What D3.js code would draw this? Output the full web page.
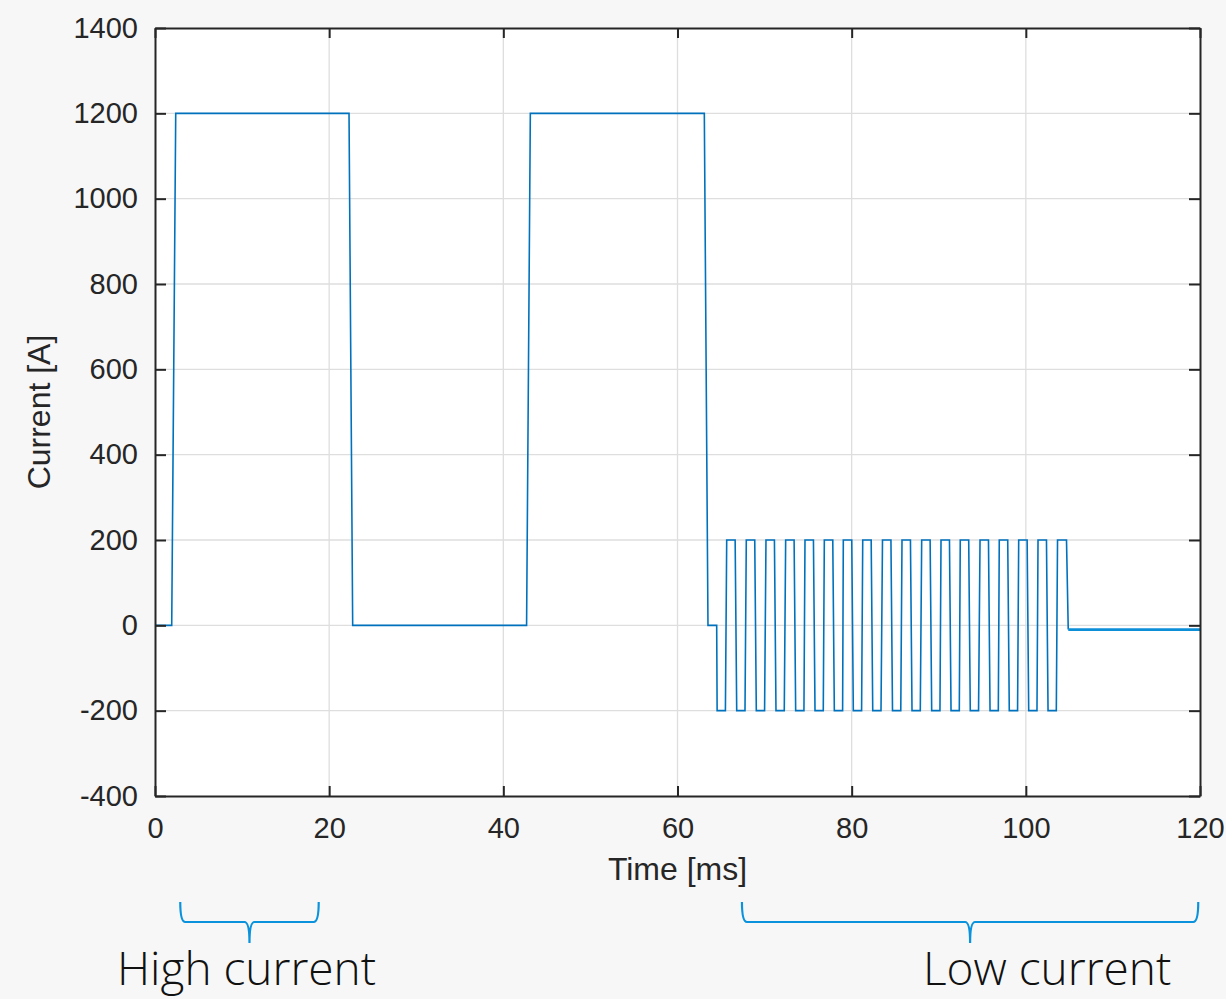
<!DOCTYPE html>
<html>
<head>
<meta charset="utf-8">
<script src="https://cdn.jsdelivr.net/npm/d3@7"></script>
<style>
  body { margin: 0; background: #f7f7f7; }
  svg { display: block; }
</style>
</head>
<body>
<div id="chart"></div>
<script>
// current waveform (time in ms, current in A)
const timeMs = [
  0, 1.92, 2.38, 22.28, 22.70, 42.67, 43.10, 63.08, 63.50, 64.50, 64.55, 65.50,
  65.65, 66.62, 66.80, 67.75,
  67.90, 68.87, 69.05, 70.00,
  70.16, 71.13, 71.31, 72.26,
  72.42, 73.39, 73.57, 74.52,
  74.64, 75.61, 75.79, 76.74,
  76.86, 77.83, 78.01, 78.96,
  79.04, 80.01, 80.19, 81.14,
  81.27, 82.24, 82.42, 83.37,
  83.54, 84.51, 84.69, 85.64,
  85.78, 86.75, 86.93, 87.88,
  88.04, 89.01, 89.19, 90.14,
  90.26, 91.23, 91.41, 92.36,
  92.47, 93.44, 93.62, 94.57,
  94.74, 95.71, 95.89, 96.84,
  96.95, 97.92, 98.10, 99.05,
  99.18, 100.15, 100.33, 101.28,
  101.40, 102.37, 102.55, 103.50,
  103.64, 104.67, 104.87, 120
]
const currentA = [
  0, 0, 1200, 1200, 0, 0, 1200, 1200, 0, 0, -200, -200,
  200, 200, -200, -200,
  200, 200, -200, -200,
  200, 200, -200, -200,
  200, 200, -200, -200,
  200, 200, -200, -200,
  200, 200, -200, -200,
  200, 200, -200, -200,
  200, 200, -200, -200,
  200, 200, -200, -200,
  200, 200, -200, -200,
  200, 200, -200, -200,
  200, 200, -200, -200,
  200, 200, -200, -200,
  200, 200, -200, -200,
  200, 200, -200, -200,
  200, 200, -200, -200,
  200, 200, -200, -200,
  200, 200, -10, -10
]

const xTicks = [0, 20, 40, 60, 80, 100, 120]
const yTicks = [-400, -200, 0, 200, 400, 600, 800, 1000, 1200, 1400]

// brace annotations below the axis (time ranges in ms)
const braceLabels = ["High current", "Low current"]
const braceStart = [2.9, 67.4]
const braceEnd = [18.8, 119.8]
const braceTextX = [117, 923]

const WIDTH = 1226
const HEIGHT = 999
const MARGIN = { top: 28, right: 26, bottom: 203, left: 155 }
const plotW = WIDTH - MARGIN.left - MARGIN.right
const plotH = HEIGHT - MARGIN.top - MARGIN.bottom

const TICK_FONT = "'Liberation Sans', Arial, Helvetica, sans-serif"
const INK = "#262626"

const svg = d3.select("#chart").append("svg")
  .attr("width", WIDTH)
  .attr("height", HEIGHT)

svg.append("rect")
  .attr("width", WIDTH).attr("height", HEIGHT)
  .attr("fill", "#f7f7f7")

const g = svg.append("g")
  .attr("transform", `translate(${MARGIN.left},${MARGIN.top})`)

const x = d3.scaleLinear().domain([0, 120]).range([0, plotW])
const y = d3.scaleLinear().domain([-400, 1400]).range([plotH, 0])

g.append("rect")
  .attr("width", plotW).attr("height", plotH)
  .attr("fill", "#ffffff")

// grid
g.append("g").attr("class", "grid-x")
  .selectAll("line")
  .data(xTicks.slice(1, -1))
  .join("line")
  .attr("x1", d => x(d)).attr("x2", d => x(d))
  .attr("y1", 0).attr("y2", plotH)
  .attr("stroke", "#dedede")
  .attr("stroke-width", 1.3)

g.append("g").attr("class", "grid-y")
  .selectAll("line")
  .data(yTicks.slice(1, -1))
  .join("line")
  .attr("x1", 0).attr("x2", plotW)
  .attr("y1", d => y(d)).attr("y2", d => y(d))
  .attr("stroke", "#dedede")
  .attr("stroke-width", 1.3)

// waveform
const points = timeMs.map((t, i) => ({ t: t, a: currentA[i] }))
const line = d3.line()
  .x(d => x(d.t))
  .y(d => y(d.a))

g.append("path")
  .datum(points.slice(0, -1))
  .attr("fill", "none")
  .attr("stroke", "#0072bd")
  .attr("stroke-width", 1.6)
  .attr("stroke-linejoin", "miter")
  .attr("d", line)

// tail segment is drawn heavier in the reference
g.append("path")
  .datum(points.slice(-2))
  .attr("fill", "none")
  .attr("stroke", "#0d8fd8")
  .attr("stroke-width", 2.6)
  .attr("d", line)

// axes (ticks inward, box on all four sides)
function styleAxis(sel) {
  sel.select(".domain").attr("stroke", INK).attr("stroke-width", 2)
  sel.selectAll(".tick line").attr("stroke", INK).attr("stroke-width", 2)
  sel.selectAll(".tick text").attr("fill", INK)
  sel.attr("font-family", TICK_FONT).attr("font-size", 29)
}

const plain = d => String(d)

const yAxisCall = d3.axisLeft(y).tickValues(yTicks).tickFormat(plain)
  .tickSize(-11).tickSizeOuter(0).tickPadding(17)
const xAxisCall = d3.axisBottom(x).tickValues(xTicks).tickFormat(plain)
  .tickSize(-10).tickSizeOuter(0).tickPadding(21)

g.append("g").attr("class", "y-axis").call(yAxisCall).call(styleAxis)
g.append("g").attr("class", "x-axis")
  .attr("transform", `translate(0,${plotH})`)
  .call(xAxisCall).call(styleAxis)

g.append("g").attr("class", "y-axis-right")
  .attr("transform", `translate(${plotW},0)`)
  .call(d3.axisRight(y).tickValues(yTicks).tickSize(-11).tickSizeOuter(0).tickFormat(""))
  .call(styleAxis)
g.append("g").attr("class", "x-axis-top")
  .call(d3.axisTop(x).tickValues(xTicks).tickSize(-10).tickSizeOuter(0).tickFormat(""))
  .call(styleAxis)

// axis labels
g.append("text")
  .attr("x", plotW / 2)
  .attr("y", plotH + 84)
  .attr("text-anchor", "middle")
  .attr("font-family", TICK_FONT)
  .attr("font-size", 32)
  .attr("fill", INK)
  .text("Time [ms]")

svg.append("text")
  .attr("transform", `translate(50,${MARGIN.top + plotH / 2}) rotate(-90)`)
  .attr("text-anchor", "middle")
  .attr("font-family", TICK_FONT)
  .attr("font-size", 32)
  .attr("fill", INK)
  .text("Current [A]")

// braces
function bracePath(x0, x1, yTop, yMid, yTip) {
  const xm = (x0 + x1) / 2
  const r = 5
  return `M${x0},${yTop}` +
    `Q${x0},${yMid} ${x0 + r},${yMid}` +
    `L${xm - r},${yMid}` +
    `Q${xm},${yMid} ${xm},${yTip}` +
    `Q${xm},${yMid} ${xm + r},${yMid}` +
    `L${x1 - r},${yMid}` +
    `Q${x1},${yMid} ${x1},${yTop}`
}

const braces = svg.append("g").attr("class", "braces")
braceLabels.forEach((label, i) => {
  const x0 = MARGIN.left + x(braceStart[i])
  const x1 = MARGIN.left + x(braceEnd[i])
  braces.append("path")
    .attr("d", bracePath(x0, x1, 902, 922, 943))
    .attr("fill", "none")
    .attr("stroke", "#0a93dc")
    .attr("stroke-width", 2.2)
  braces.append("text")
    .attr("x", braceTextX[i])
    .attr("y", 985)
    .attr("font-family", "'Open Sans', 'Noto Sans', sans-serif")
    .attr("font-weight", 300)
    .attr("font-size", 46)
    .attr("fill", "#111111")
    .text(label)
})
</script>
</body>
</html>
